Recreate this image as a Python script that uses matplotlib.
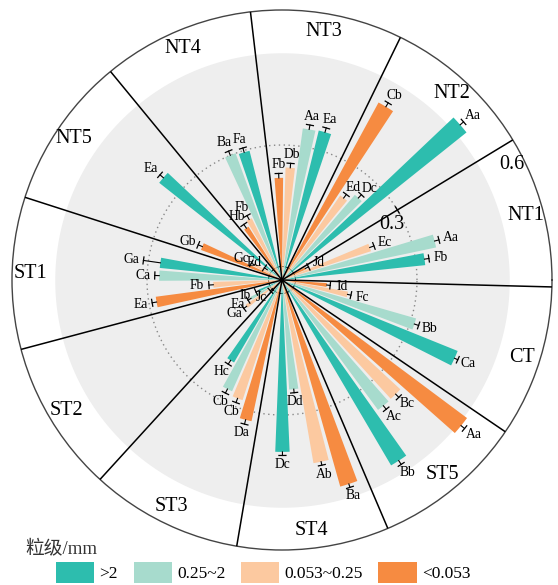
import numpy as np
import matplotlib.pyplot as plt
from matplotlib.patches import Patch

plt.rcParams['font.family'] = ['Liberation Serif', 'Noto Sans CJK SC']

# 样地
sites = ['CT', 'NT1', 'NT2', 'NT3', 'NT4', 'NT5', 'ST1', 'ST2', 'ST3', 'ST4', 'ST5']

# 各粒级占比 (>2, 0.25~2, 0.053~0.25, <0.053)
gt2 = [0.421, 0.320, 0.525, 0.342, 0.296, 0.348, 0.273, 0.056, 0.212, 0.382, 0.478]
mid = [0.310, 0.350, 0.249, 0.340, 0.300, 0.040, 0.273, 0.080, 0.271, 0.244, 0.359]
fine = [0.149, 0.208, 0.228, 0.250, 0.153, 0.070, 0.153, 0.098, 0.281, 0.413, 0.358]
clay = [0.100, 0.058, 0.449, 0.227, 0.140, 0.192, 0.283, 0.028, 0.321, 0.477, 0.513]

# 标准误
gt2_err = [0.008, 0.010, 0.010, 0.010, 0.010, 0.010, 0.038, 0.008, 0.010, 0.008, 0.010]
mid_err = [0.010, 0.010, 0.010, 0.010, 0.010, 0.008, 0.010, 0.008, 0.010, 0.008, 0.010]
fine_err = [0.008, 0.010, 0.010, 0.010, 0.010, 0.008, 0.010, 0.008, 0.010, 0.008, 0.010]
clay_err = [0.008, 0.008, 0.010, 0.010, 0.010, 0.010, 0.010, 0.008, 0.010, 0.008, 0.010]

# 显著性字母
gt2_sig = ['Ca', 'Fb', 'Aa', 'Ea', 'Fa', 'Ea', 'Ga', 'Ib', 'Hc', 'Dc', 'Bb']
mid_sig = ['Bb', 'Aa', 'Dc', 'Aa', 'Ba', 'Ed', 'Ca', 'Ea', 'Cb', 'Dd', 'Ac']
fine_sig = ['Fc', 'Ec', 'Ed', 'Db', 'Fb', 'Gc', 'Fb', 'Ga', 'Cb', 'Ab', 'Bc']
clay_sig = ['Id', 'Jd', 'Cb', 'Fb', 'Hb', 'Gb', 'Ea', 'Jc', 'Da', 'Ba', 'Aa']

labels = ['>2', '0.25~2', '0.053~0.25', '<0.053']
colors = ['#2dbdae', '#a7dbcd', '#fcc9a0', '#f68b41']

series = [(gt2, gt2_err, gt2_sig), (mid, mid_err, mid_sig),
          (fine, fine_err, fine_sig), (clay, clay_err, clay_sig)]

n = len(sites)
span = 2 * np.pi / n
starts = np.deg2rad(-34.2) + span * np.arange(n)
first = np.deg2rad(9.8)
step = np.deg2rad(6.0)
width = np.deg2rad(4.8)
rmax = 0.6
px_per_unit = 270 / rmax   # 极坐标半径 270 像素

fig = plt.figure(figsize=(5.58, 5.85), dpi=100)
ax = fig.add_axes([12 / 558, 35 / 585, 540 / 558, 540 / 585], projection='polar')

full = np.linspace(0, 2 * np.pi, 400)
ax.fill_between(full, 0, 0.505, color='#eeeeee', lw=0, zorder=0)
ax.plot(full, np.full_like(full, 0.3), color='#888888', ls=(0, (1, 2.5)), lw=1, zorder=1)
ax.plot(full, np.full_like(full, 0.03), color='k', lw=0.7, zorder=1.5)

for j, (vals, errs, sig) in enumerate(series):
    theta = starts + first + j * step
    ax.bar(theta, vals, width=width, color=colors[j], zorder=2)
    for t, v, e, s in zip(theta, vals, errs, sig):
        top = v + e
        ax.plot([t, t], [v, top], color='k', lw=0.8, zorder=3)
        dt = 3.5 / (px_per_unit * top)
        ax.plot([t - dt, t + dt], [top, top], color='k', lw=0.9, zorder=3)
        ax.annotate(s, (t, top), xytext=(8.5 * np.cos(t), 6.5 * np.sin(t)),
                    textcoords='offset points', ha='center', va='center', fontsize=9.8)

# 分区线
for s in starts:
    ax.plot([s, s], [0, rmax], color='k', lw=1.1, zorder=4)

for s, name in zip(starts, sites):
    ax.text(s + span / 2, 0.56, name, ha='center', va='center', fontsize=14.5)

# 半径刻度
d = np.deg2rad(1.5)
ax.plot([starts[2] - d, starts[2] + d], [0.3, 0.3], color='k', lw=1, zorder=4)
ax.text(starts[2] - np.deg2rad(4.6), 0.273, '0.3', ha='center', va='center', fontsize=14.5)
ax.text(starts[2] - np.deg2rad(4.6), 0.571, '0.6', ha='center', va='center', fontsize=14.5)

ax.set_ylim(0, rmax)
ax.set_xticks([])
ax.set_yticks([])
ax.grid(False)
ax.spines['polar'].set_color('#444444')
ax.spines['polar'].set_linewidth(1)

fig.text(25 / 558, 36 / 585, '粒级/mm', fontsize=13.5, ha='left', va='center', color='#333333')
handles = [Patch(facecolor=c, label=l) for c, l in zip(colors, labels)]
fig.legend(handles=handles, loc='lower left', bbox_to_anchor=(56 / 558, 2 / 585), ncol=4,
           frameon=False, fontsize=12.5, handlelength=2.2, handleheight=1.45,
           handletextpad=0.3, columnspacing=0.9, borderaxespad=0, borderpad=0)

fig.savefig('out.png', dpi=100)
